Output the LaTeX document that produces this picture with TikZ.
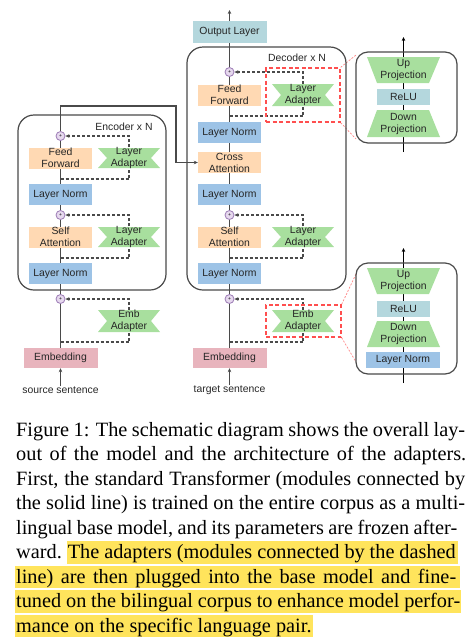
\documentclass[tikz,border=0pt]{standalone}
\usepackage{fontspec}
\setmainfont{Liberation Serif}
\newfontfamily\diagfont{Liberation Sans}
\usepackage{xcolor}
\usetikzlibrary{arrows.meta}
\usetikzlibrary{backgrounds}
\usetikzlibrary{calc}

\definecolor{normblue}{HTML}{9DC3E6}
\definecolor{ffpeach}{HTML}{FFD9B3}
\definecolor{adgreen}{HTML}{A8DF9E}
\definecolor{embpink}{HTML}{E8B4BD}
\definecolor{outteal}{HTML}{B4D7DD}
\definecolor{sumfill}{HTML}{E6D8EE}
\definecolor{sumdraw}{HTML}{9C7BB5}
\definecolor{zoomred}{HTML}{FF4F4F}
\definecolor{linegray}{HTML}{4A4A4A}
\definecolor{hlyellow}{HTML}{FFE45C}

\begin{document}
\begin{tikzpicture}
  [
    x=1pt, y=-1pt,
    lbl/.style={
       font=\diagfont\fontsize{10.4}{12}\selectfont,
       text=black!85,
       align=center,
       inner sep=0
    },
    blk/.style={lbl, minimum width=63, minimum height=21},
    normbox/.style={blk, fill=normblue},
    subbox/.style={blk, fill=ffpeach},
    embbox/.style={blk, minimum width=74, minimum height=20, fill=embpink},
    relubox/.style={blk, minimum width=53, minimum height=16, fill=outteal},
    sum/.style={
       circle,
       draw=sumdraw,
       fill=sumfill,
       line width=0.8,
       minimum size=9,
       inner sep=0,
       font=\diagfont\fontsize{5}{5}\selectfont
    },
    ribbon/.style={fill=adgreen},
    stackframe/.style={draw=linegray, line width=1.2, rounded corners=16},
    zoombox/.style={draw=zoomred, line width=1.3, dash pattern=on 4pt off 2.5pt, inner sep=0},
    zoomline/.style={draw=zoomred!70, line width=0.7, dash pattern=on 2pt off 1.5pt},
    solidln/.style={draw=linegray, line width=1.2},
    adpath/.style={draw=linegray, line width=1.1, dash pattern=on 3pt off 2pt},
    arr/.style={-{Stealth[length=4pt, width=3.6pt]}},
    captext/.style={font=\fontsize{20.3}{24.5}\selectfont, inner sep=0, anchor=base west}
  ]
  \useasboundingbox (0,0) rectangle (473,638);

  % encoder stack
  \draw[stackframe] (18,115) rectangle (166,290);
  \node[lbl] (encTitle) at (124,127) {Encoder x N};
  \node[sum] (encS3) at (60.5,136) {+};
  \node[subbox] (encFF) at (60.5,158) {Feed\\Forward};
  \fill[ribbon] (98,148) -- ++(62,0) -- ++(-9,10) -- ++(9,10) -- ++(-62,0) -- ++(9,-10) -- cycle;
  \node[lbl] (encAd3) at (129,158) {Layer\\Adapter};
  \node[normbox] (encLN2) at (60.5,194.5) {Layer Norm};
  \node[sum] (encS2) at (60.5,215) {+};
  \node[subbox] (encSA) at (60.5,237) {Self\\Attention};
  \fill[ribbon] (98,227) -- ++(62,0) -- ++(-9,10) -- ++(9,10) -- ++(-62,0) -- ++(9,-10) -- cycle;
  \node[lbl] (encAd2) at (129,237) {Layer\\Adapter};
  \node[normbox] (encLN1) at (60.5,273.5) {Layer Norm};
  \node[sum] (encS1) at (60.5,299) {+};
  \fill[ribbon] (98,310) -- ++(62,0) -- ++(-9,11) -- ++(9,11) -- ++(-62,0) -- ++(9,-11) -- cycle;
  \node[lbl] (encAd1) at (129,321) {Emb\\Adapter};
  \node[embbox] (encEmb) at (60.5,358) {Embedding};
  \node[lbl] (srcTxt) at (60.5,390) {source sentence};
  \coordinate (encTap3) at (60.5,179);
  \coordinate (encTap2) at (60.5,258);
  \coordinate (encTap1) at (60.5,342);
  \coordinate (encUp) at (60.5,106);
  \coordinate (encOver) at (176,106);

  % decoder stack
  \draw[stackframe] (187,47) rectangle (346,290);
  \node[lbl] (decTitle) at (297,58) {Decoder x N};
  \node[blk, minimum width=74, minimum height=22, fill=outteal] (decOut) at (229.5,32) {Output Layer};
  \coordinate (decTop) at (229.5,10);
  \node[sum] (decS3) at (229.5,72) {+};
  \node[subbox] (decFF) at (229.5,95) {Feed\\Forward};
  \fill[ribbon] (272,84) -- ++(62,0) -- ++(-9,11) -- ++(9,11) -- ++(-62,0) -- ++(9,-11) -- cycle;
  \node[lbl] (decAd3) at (303,95) {Layer\\Adapter};
  \node[normbox] (decLN3) at (229.5,132.5) {Layer Norm};
  \node[subbox] (decCA) at (229.5,162.5) {Cross\\Attention};
  \node[normbox] (decLN2) at (229.5,194.5) {Layer Norm};
  \node[sum] (decS2) at (229.5,215) {+};
  \node[subbox] (decSA) at (229.5,237) {Self\\Attention};
  \fill[ribbon] (272,227) -- ++(62,0) -- ++(-9,10) -- ++(9,10) -- ++(-62,0) -- ++(9,-10) -- cycle;
  \node[lbl] (decAd2) at (303,237) {Layer\\Adapter};
  \node[normbox] (decLN1) at (229.5,273.5) {Layer Norm};
  \node[sum] (decS1) at (229.5,299) {+};
  \fill[ribbon] (272,310) -- ++(62,0) -- ++(-9,11) -- ++(9,11) -- ++(-62,0) -- ++(9,-11) -- cycle;
  \node[lbl] (decAd1) at (303,321) {Emb\\Adapter};
  \node[embbox] (decEmb) at (229.5,358) {Embedding};
  \node[lbl] (tgtTxt) at (229.5,390) {target sentence};
  \coordinate (decTap3) at (229.5,116);
  \coordinate (decTap2) at (229.5,258);
  \coordinate (decTap1) at (229.5,342);
  \node[zoombox, minimum width=74, minimum height=54] (zoomA) at (303,95) {};
  \node[zoombox, minimum width=75, minimum height=32] (zoomB) at (303.5,321) {};

  % layer adapter detail
  \draw[stackframe, rounded corners=12] (356,52) rectangle (457,143);
  \fill[ribbon] (367,57) -- (440,57) -- (429,83) -- (377,83) -- cycle;
  \node[lbl] (upA) at (403.5,69.5) {Up\\Projection};
  \node[relubox] (reluA) at (403.5,97) {ReLU};
  \fill[ribbon] (377,110) -- (429,110) -- (440,137) -- (367,137) -- cycle;
  \node[lbl] (downA) at (403.5,123.5) {Down\\Projection};
  \coordinate (inA) at (403.5,152);
  \coordinate (outA) at (403.5,37);
  \coordinate (panA1) at (356,55);
  \coordinate (panA2) at (356,139);

  % emb adapter detail
  \draw[stackframe, rounded corners=12] (356,263) rectangle (457,374);
  \fill[ribbon] (367,268) -- (440,268) -- (429,294) -- (377,294) -- cycle;
  \node[lbl] (upB) at (403.5,281) {Up\\Projection};
  \node[relubox] (reluB) at (403.5,309) {ReLU};
  \fill[ribbon] (377,321) -- (429,321) -- (440,347) -- (367,347) -- cycle;
  \node[lbl] (downB) at (403.5,334) {Down\\Projection};
  \node[normbox, minimum width=74, minimum height=16] (normB) at (403,360) {Layer Norm};
  \coordinate (inB) at (403.5,383);
  \coordinate (outB) at (403.5,248);
  \coordinate (panB1) at (356,274);
  \coordinate (panB2) at (356,362);

  % caption
  \node[captext] (cap1) at (16,436) {\makebox[449pt][s]{Figure 1: The schematic diagram shows the overall lay-}};
  \node[captext] (cap2) at (16,460.5) {\makebox[450pt][s]{out of the model and the architecture of the adapters.}};
  \node[captext] (cap3) at (16,485) {\makebox[449pt][s]{First, the standard Transformer (modules connected by}};
  \node[captext] (cap4) at (16,509.5) {\makebox[449pt][s]{the solid line) is trained on the entire corpus as a multi-}};
  \node[captext] (cap5) at (16,534) {\makebox[441pt][s]{lingual base model, and its parameters are frozen after-}};
  \node[captext] (cap6a) at (16,558.5) {ward.};
  \node[captext, anchor=base east] (cap6b) at (456,558.5) {\makebox[388pt][s]{The adapters (modules connected by the dashed}};
  \node[captext] (cap7) at (16,583) {\makebox[440pt][s]{line) are then plugged into the base model and fine-}};
  \node[captext] (cap8) at (16,607.5) {\makebox[444pt][s]{tuned on the bilingual corpus to enhance model perfor-}};
  \node[captext] (cap9) at (16,632) {mance on the specific language pair.};

  \begin{scope}[on background layer]
    \fill[hlyellow] ($(cap6b.base west)+(-1,-17.5)$) rectangle ($(cap6b.base east)+(2,5)$);
    \fill[hlyellow] ($(cap7.base west)+(-1,-17.5)$) rectangle ($(cap7.base east)+(4,5)$);
    \fill[hlyellow] ($(cap8.base west)+(-1,-17.5)$) rectangle ($(cap8.base east)+(1,5)$);
    \fill[hlyellow] ($(cap9.base west)+(-1,-17.5)$) rectangle ($(cap9.base east)+(1.5,5)$);

    % base model
    \draw[solidln, arr] (srcTxt) -- (encEmb);
    \draw[solidln] (encEmb) -- (encS1) -- (encS2) -- (encS3);
    \draw[solidln, arr] (encS3) -- (encUp) -- (encOver) |- (decCA.west);
    \draw[solidln, arr] (tgtTxt) -- (decEmb);
    \draw[solidln] (decEmb) -- (decS1) -- (decS2) -- (decS3) -- (decOut);
    \draw[solidln, arr] (decOut) -- (decTop);

    % adapters
    \draw[adpath] (encTap3) -| (encAd3.south);
    \draw[adpath, arr] (encAd3.north) |- (encS3.east);
    \draw[adpath] (encTap2) -| (encAd2.south);
    \draw[adpath, arr] (encAd2.north) |- (encS2.east);
    \draw[adpath] (encTap1) -| (encAd1.south);
    \draw[adpath, arr] (encAd1.north) |- (encS1.east);
    \draw[adpath] (decTap3) -| (decAd3.south);
    \draw[adpath, arr] (decAd3.north) |- (decS3.east);
    \draw[adpath] (decTap2) -| (decAd2.south);
    \draw[adpath, arr] (decAd2.north) |- (decS2.east);
    \draw[adpath] (decTap1) -| (decAd1.south);
    \draw[adpath, arr] (decAd1.north) |- (decS1.east);

    % details
    \draw[black, line width=0.8, arr] (inA) -- (outA);
    \draw[black, line width=0.8, arr] (inB) -- (outB);
    \draw[zoomline] (zoomA.north east) -- (panA1);
    \draw[zoomline] (zoomA.south east) -- (panA2);
    \draw[zoomline] (zoomB.north east) -- (panB1);
    \draw[zoomline] (zoomB.south east) -- (panB2);
  \end{scope}
\end{tikzpicture}
\end{document}
